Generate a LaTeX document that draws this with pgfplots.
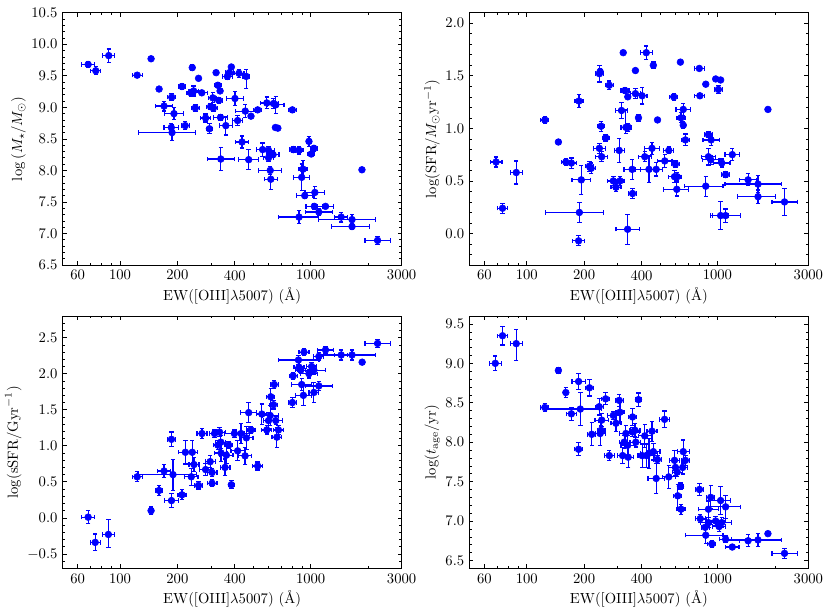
\documentclass[border=0pt]{standalone}
\usepackage{pgfplots}
\usepackage{pgfplotstable}
\pgfplotsset{compat=1.18}

\pgfplotstableread{
x y exm exp eym eyp
1.833 9.68 0.035 0.035 0.053 0.053
1.873 9.58 0.026 0.026 0.063 0.063
1.941 9.82 0.031 0.031 0.105 0.105
2.163 9.77 0 0 0 0
2.090 9.51 0.026 0.026 0.030 0.030
2.205 9.29 0 0 0 0
2.325 9.33 0.017 0.017 0.053 0.053
2.271 9.16 0.021 0.021 0.053 0.053
2.231 9.02 0.043 0.043 0.079 0.079
2.283 8.90 0.049 0.049 0.095 0.095
2.269 8.68 0.038 0.038 0.063 0.063
2.273 8.60 0.177 0.123 0.132 0.132
2.342 8.71 0.021 0.021 0.063 0.063
2.379 9.63 0.010 0.010 0.042 0.042
2.386 9.26 0.026 0.026 0.079 0.079
2.372 9.23 0.021 0.021 0.050 0.050
2.412 9.46 0 0 0 0
2.429 9.23 0.031 0.031 0.030 0.030
2.395 8.99 0.021 0.021 0.050 0.050
2.449 8.83 0.026 0.026 0.063 0.063
2.469 8.66 0.017 0.017 0.079 0.079
2.487 9.15 0.021 0.021 0.079 0.079
2.475 9.01 0.021 0.021 0.050 0.050
2.490 8.99 0.021 0.021 0.050 0.050
2.504 9.55 0 0 0.020 0.020
2.513 9.35 0.017 0.017 0.040 0.040
2.525 9.26 0 0 0 0
2.518 9.11 0.021 0.021 0.050 0.050
2.527 8.84 0.035 0.035 0.050 0.050
2.555 8.71 0.035 0.035 0.148 0.148
2.563 9.49 0.026 0.026 0.050 0.050
2.574 9.55 0.020 0.020 0.030 0.030
2.584 9.64 0 0 0.020 0.020
2.624 9.54 0.026 0.026 0.063 0.063
2.662 9.49 0.017 0.017 0.190 0.116
2.603 9.14 0.043 0.043 0.105 0.105
2.617 8.79 0.026 0.026 0.079 0.079
2.657 8.94 0.052 0.052 0.105 0.105
2.687 8.86 0.010 0.010 0.030 0.030
2.722 8.96 0.021 0.021 0.030 0.030
2.640 8.45 0.035 0.035 0.095 0.095
2.529 8.18 0.070 0.070 0.185 0.185
2.675 8.17 0.052 0.052 0.158 0.158
2.770 9.07 0.031 0.031 0.095 0.095
2.805 9.06 0.026 0.026 0.079 0.079
2.817 9.04 0.043 0.043 0.132 0.132
2.815 8.68 0.010 0.010 0.030 0.030
2.828 8.67 0.010 0.010 0.030 0.030
2.748 8.33 0.031 0.031 0.105 0.105
2.779 8.32 0.031 0.031 0.060 0.060
2.803 8.25 0.031 0.031 0.050 0.050
2.779 8.20 0.026 0.026 0.060 0.060
2.788 8.00 0.061 0.061 0.060 0.060
2.791 7.86 0.035 0.035 0.158 0.158
2.904 8.96 0.021 0.021 0.040 0.040
2.909 8.33 0.021 0.021 0.050 0.050
2.939 8.32 0.021 0.021 0.060 0.060
2.991 8.46 0.014 0.014 0.079 0.079
3.017 8.35 0.017 0.017 0.050 0.050
3.003 8.26 0.017 0.017 0.040 0.040
2.960 8.02 0.021 0.021 0.132 0.132
2.953 7.89 0.043 0.043 0.211 0.211
2.969 7.60 0.043 0.043 0.050 0.050
3.022 7.65 0.052 0.052 0.095 0.095
3.019 7.43 0.043 0.043 0.050 0.050
3.078 7.43 0.043 0.043 0.030 0.030
3.043 7.34 0.070 0.070 0.050 0.050
2.939 7.26 0.108 0.104 0.105 0.105
3.160 7.26 0.035 0.035 0.079 0.079
3.217 7.22 0.177 0.125 0.079 0.079
3.217 7.11 0.108 0.090 0.040 0.040
3.269 8.01 0 0 0 0
3.351 6.89 0.066 0.066 0.063 0.063
}\mass

\pgfplotstableread{
x y exm exp eym eyp
1.839 0.68 0.031 0.031 0.048 0.048
1.873 0.24 0.026 0.026 0.048 0.048
1.945 0.58 0.031 0.031 0.110 0.110
2.095 1.08 0.021 0.021 0.032 0.032
2.166 0.87 0 0 0.020 0.020
2.205 0.68 0.021 0.021 0.030 0.030
2.234 0.67 0.026 0.026 0.048 0.048
2.274 1.26 0.021 0.021 0.063 0.063
2.276 0.20 0.177 0.127 0.095 0.095
2.272 -0.07 0.031 0.031 0.048 0.048
2.286 0.51 0.049 0.049 0.140 0.140
2.329 0.64 0.021 0.021 0.048 0.048
2.338 0.62 0.021 0.021 0.050 0.050
2.381 1.52 0.021 0.021 0.079 0.079
2.385 1.54 0.010 0.010 0.030 0.030
2.390 1.02 0.017 0.017 0.048 0.048
2.381 0.81 0.031 0.031 0.048 0.048
2.393 0.73 0.031 0.031 0.048 0.048
2.414 0.91 0.017 0.017 0.030 0.030
2.433 1.41 0.021 0.021 0.040 0.040
2.454 0.50 0.031 0.031 0.040 0.040
2.468 0.44 0.026 0.026 0.040 0.040
2.489 0.50 0.021 0.021 0.040 0.040
2.485 0.79 0.026 0.026 0.111 0.111
2.506 1.72 0 0 0.020 0.020
2.497 1.17 0.031 0.031 0.079 0.079
2.515 1.36 0.021 0.021 0.030 0.030
2.530 1.30 0 0 0 0
2.520 1.01 0.026 0.026 0.057 0.165
2.532 1.01 0.017 0.017 0.040 0.040
2.553 0.61 0.043 0.043 0.095 0.095
2.555 0.38 0.021 0.021 0.048 0.048
2.529 0.04 0.061 0.061 0.143 0.143
2.570 1.55 0 0 0.020 0.020
2.570 1.33 0.026 0.026 0.048 0.048
2.586 1.10 0 0 0.032 0.032
2.605 1.31 0.026 0.026 0.079 0.079
2.627 1.72 0.031 0.031 0.063 0.063
2.619 0.73 0.035 0.035 0.048 0.048
2.641 0.61 0.069 0.069 0.127 0.127
2.657 0.81 0.038 0.038 0.057 0.057
2.664 1.60 0 0 0.032 0.032
2.679 0.61 0.035 0.035 0.063 0.063
2.686 1.08 0 0 0 0
2.724 0.69 0.038 0.038 0.063 0.063
2.745 0.79 0.026 0.026 0.032 0.032
2.771 1.30 0.021 0.021 0.032 0.032
2.780 0.66 0.021 0.021 0.030 0.030
2.775 0.54 0.031 0.031 0.057 0.057
2.789 0.54 0.020 0.020 0.040 0.040
2.787 0.42 0.069 0.062 0.063 0.063
2.806 1.63 0 0 0 0
2.809 1.10 0.021 0.021 0.048 0.048
2.821 1.03 0 0 0.032 0.032
2.821 1.18 0.038 0.038 0.057 0.057
2.832 0.89 0.021 0.021 0.057 0.057
2.905 1.57 0.026 0.026 0.020 0.020
2.908 1.31 0.026 0.026 0.020 0.020
2.939 1.42 0 0 0 0
2.939 0.45 0.113 0.090 0.095 0.095
2.953 0.94 0.021 0.021 0.030 0.030
2.967 0.89 0.043 0.043 0.057 0.057
2.953 0.73 0.035 0.035 0.079 0.079
2.965 0.70 0.043 0.043 0.040 0.040
2.991 1.47 0 0 0 0
3.017 1.46 0 0 0 0
3.005 1.37 0.021 0.021 0.038 0.038
3.023 0.67 0.043 0.043 0.038 0.038
3.043 0.56 0.021 0.021 0.030 0.030
3.017 0.17 0.043 0.043 0.135 0.135
3.043 0.17 0.078 0.078 0.063 0.063
3.078 0.75 0.038 0.038 0.057 0.057
3.161 0.51 0.043 0.043 0.057 0.057
3.213 0.47 0.173 0.125 0.079 0.079
3.213 0.35 0.109 0.090 0.063 0.063
3.265 1.18 0 0 0 0
3.352 0.30 0.066 0.066 0.127 0.127
}\sfr

\pgfplotstableread{
x y exm exp eym eyp
1.833 0.01 0.035 0.035 0.093 0.093
1.870 -0.34 0.026 0.026 0.116 0.116
1.939 -0.23 0.031 0.031 0.176 0.208
2.090 0.57 0.026 0.026 0.069 0.069
2.163 0.10 0 0 0.050 0.050
2.205 0.38 0.017 0.017 0.069 0.069
2.231 0.65 0.035 0.035 0.093 0.093
2.270 1.09 0.021 0.021 0.102 0.102
2.270 0.24 0.038 0.038 0.093 0.093
2.278 0.60 0.183 0.122 0.215 0.215
2.325 0.32 0.021 0.021 0.069 0.069
2.343 0.91 0.035 0.035 0.162 0.162
2.374 0.57 0.035 0.035 0.116 0.116
2.379 0.91 0.026 0.026 0.162 0.162
2.388 0.74 0.026 0.026 0.093 0.093
2.412 0.45 0.021 0.021 0.050 0.050
2.430 1.17 0.026 0.026 0.069 0.069
2.449 0.67 0.031 0.031 0.083 0.083
2.473 0.78 0.026 0.026 0.083 0.083
2.483 0.48 0.026 0.026 0.050 0.050
2.483 0.63 0.026 0.026 0.060 0.060
2.496 1.17 0.026 0.026 0.050 0.050
2.513 1.01 0.021 0.021 0.060 0.060
2.522 1.19 0.031 0.031 0.060 0.060
2.529 1.05 0.026 0.026 0.093 0.093
2.530 0.90 0.035 0.035 0.116 0.116
2.551 0.70 0.026 0.026 0.116 0.116
2.558 0.87 0.035 0.035 0.116 0.116
2.570 1.01 0.021 0.021 0.050 0.050
2.584 0.46 0.017 0.017 0.056 0.056
2.600 1.17 0.052 0.052 0.050 0.050
2.617 0.93 0.035 0.035 0.139 0.139
2.635 1.17 0.043 0.043 0.139 0.139
2.656 0.86 0.035 0.035 0.116 0.116
2.663 1.11 0.035 0.035 0.162 0.162
2.675 1.46 0.043 0.043 0.139 0.139
2.687 1.22 0.021 0.021 0.046 0.046
2.722 0.72 0.026 0.026 0.056 0.056
2.744 1.44 0.026 0.026 0.139 0.139
2.770 1.22 0.026 0.026 0.056 0.056
2.779 1.35 0.026 0.026 0.116 0.116
2.788 1.42 0.043 0.043 0.139 0.139
2.791 1.68 0.021 0.021 0.116 0.116
2.805 1.57 0.021 0.021 0.060 0.060
2.809 1.85 0.021 0.021 0.060 0.060
2.817 1.35 0.035 0.035 0.060 0.060
2.831 1.22 0.026 0.026 0.060 0.060
2.823 1.12 0.026 0.026 0.139 0.139
2.904 1.60 0.021 0.021 0.069 0.069
2.908 1.97 0.021 0.021 0.050 0.050
2.936 2.19 0.106 0.108 0.060 0.060
2.939 2.09 0.026 0.026 0.060 0.060
2.948 2.05 0.026 0.026 0.050 0.050
2.965 2.30 0.026 0.026 0.050 0.050
2.953 1.85 0.052 0.052 0.080 0.080
2.962 1.70 0.043 0.043 0.139 0.139
2.991 2.00 0.043 0.043 0.060 0.060
3.005 2.10 0.026 0.026 0.060 0.060
3.017 2.05 0.061 0.061 0.060 0.060
3.017 1.74 0.026 0.026 0.139 0.139
3.043 1.83 0.070 0.070 0.060 0.060
3.043 2.24 0.026 0.026 0.050 0.050
3.078 2.33 0.043 0.043 0.050 0.050
3.160 2.26 0.035 0.035 0.069 0.069
3.217 2.26 0.177 0.125 0.069 0.069
3.270 2.16 0 0 0 0
3.351 2.42 0.066 0.066 0.056 0.056
}\ssfr

\pgfplotstableread{
x y exm exp eym eyp
1.835 9.00 0.031 0.031 0.093 0.093
1.873 9.35 0.026 0.026 0.118 0.118
1.945 9.25 0.031 0.031 0.211 0.181
2.095 8.44 0.021 0.021 0.051 0.051
2.166 8.91 0 0 0.040 0.040
2.205 8.63 0 0 0.063 0.063
2.234 8.36 0.026 0.026 0.084 0.084
2.272 8.77 0.035 0.035 0.105 0.105
2.272 7.91 0.021 0.021 0.084 0.084
2.281 8.42 0.180 0.110 0.210 0.210
2.329 8.69 0.021 0.021 0.105 0.105
2.341 8.10 0.021 0.021 0.147 0.147
2.380 8.45 0.021 0.021 0.105 0.105
2.385 8.11 0.026 0.026 0.147 0.147
2.390 8.15 0.020 0.020 0.060 0.060
2.393 8.28 0.035 0.035 0.080 0.080
2.414 8.55 0.021 0.021 0.076 0.076
2.433 7.83 0.026 0.026 0.063 0.063
2.454 8.34 0.031 0.031 0.050 0.050
2.468 8.24 0.026 0.026 0.105 0.105
2.485 8.53 0.021 0.021 0.076 0.076
2.489 8.38 0.021 0.021 0.126 0.126
2.503 7.83 0.026 0.026 0.105 0.105
2.511 8.00 0.026 0.026 0.084 0.084
2.520 8.11 0.035 0.035 0.105 0.105
2.529 7.96 0.035 0.035 0.126 0.126
2.532 7.81 0.026 0.026 0.126 0.126
2.555 8.32 0.021 0.021 0.105 0.105
2.555 8.13 0.035 0.035 0.060 0.060
2.568 8.15 0.026 0.026 0.084 0.084
2.572 8.00 0.026 0.026 0.060 0.060
2.586 8.54 0.017 0.017 0.084 0.084
2.605 7.83 0.026 0.026 0.147 0.147
2.619 8.08 0.035 0.035 0.147 0.147
2.627 7.83 0.043 0.043 0.147 0.147
2.641 7.86 0.043 0.043 0.190 0.190
2.657 8.14 0.026 0.026 0.126 0.126
2.664 7.88 0.035 0.035 0.105 0.105
2.679 7.54 0.043 0.043 0.190 0.190
2.685 7.78 0.021 0.021 0.051 0.051
2.723 8.29 0.026 0.026 0.105 0.105
2.745 7.56 0.035 0.035 0.147 0.147
2.775 7.77 0.026 0.026 0.126 0.126
2.780 7.68 0.035 0.035 0.105 0.105
2.789 7.62 0.026 0.026 0.060 0.060
2.792 7.32 0.021 0.021 0.147 0.147
2.806 7.44 0.017 0.017 0.042 0.042
2.809 7.15 0.021 0.021 0.063 0.063
2.818 7.68 0.026 0.026 0.084 0.084
2.821 7.88 0.031 0.031 0.147 0.147
2.832 7.77 0.021 0.021 0.063 0.063
2.906 7.40 0.021 0.021 0.076 0.076
2.910 7.03 0.026 0.026 0.051 0.051
2.936 6.92 0.021 0.021 0.105 0.105
2.939 6.82 0.107 0.090 0.105 0.105
2.953 7.15 0.052 0.052 0.105 0.105
2.953 6.98 0.043 0.043 0.060 0.060
2.965 7.30 0.021 0.021 0.147 0.147
2.971 6.71 0.021 0.021 0.040 0.040
2.991 7.00 0.052 0.052 0.060 0.060
3.009 6.93 0.035 0.035 0.060 0.060
3.017 7.26 0.052 0.052 0.180 0.180
3.023 6.98 0.052 0.052 0.060 0.060
3.043 7.18 0.078 0.078 0.147 0.147
3.043 6.77 0.030 0.030 0.040 0.040
3.078 6.67 0.035 0.035 0.030 0.030
3.161 6.75 0.043 0.043 0.076 0.076
3.213 6.76 0.170 0.125 0.084 0.084
3.265 6.84 0 0 0 0
3.352 6.59 0.066 0.066 0.063 0.063
}\age

\pgfplotsset{
  panel/.style={
    scale only axis, width=231.4pt, height=172.2pt,
    xmin=1.69897, xmax=3.47712,
    xtick={1.77815,2,2.30103,2.60206,3,3.47712},
    xticklabels={60,100,200,400,1000,3000},
    minor xtick={1.84510,1.90309,1.95424,2.47712,2.69897,2.77815,2.84510,2.90309,2.95424,3.30103},
    tick align=inside, tick pos=both,
    major tick length=2.8pt, minor tick length=1.5pt,
    major tick style={black, line width=0.5pt},
    minor tick style={black, line width=0.4pt},
    axis line style={black, line width=0.6pt},
    yticklabel style={/pgf/number format/.cd, fixed, fixed zerofill, precision=1},
    xlabel={EW([OIII]$\lambda$5007) (\AA)},
    xlabel style={yshift=2pt},
    ylabel shift=-3pt,
    clip=true,
  },
  pts/.style={only marks, mark=*, mark size=2.3pt, color=blue, fill=blue,
    error bars/.cd, x dir=both, x explicit, y dir=both, y explicit,
    error bar style={line width=0.8pt, blue},
    error mark=-,
    error mark options={rotate=90, blue, mark size=1.5pt, line width=0.8pt}},
}

\newcommand{\plotdata}[1]{%
  \addplot[pts] table[x=x, y=y, x error plus=exp, x error minus=exm,
    y error plus=eyp, y error minus=eym] {#1};}

\begin{document}
\begin{tikzpicture}
\useasboundingbox (0,0) rectangle (567.2pt,419.8pt);

\begin{axis}[panel, at={(42.73pt,238.91pt)}, anchor=south west,
  ymin=6.5, ymax=10.5,
  ytick={6.5,7.0,7.5,8.0,8.5,9.0,9.5,10.0,10.5},
  minor ytick={6.6,6.7,6.8,6.9,7.1,7.2,7.3,7.4,7.6,7.7,7.8,7.9,8.1,8.2,8.3,8.4,8.6,8.7,8.8,8.9,9.1,9.2,9.3,9.4,9.6,9.7,9.8,9.9,10.1,10.2,10.3,10.4},
  ylabel={$\log\,(M_\star/M_\odot)$}]
\plotdata{\mass}
\end{axis}

\begin{axis}[panel, at={(320.35pt,238.91pt)}, anchor=south west,
  ymin=-0.3, ymax=2.1,
  ytick={0,0.5,1.0,1.5,2.0},
  minor ytick={-0.2,-0.1,0.1,0.2,0.3,0.4,0.6,0.7,0.8,0.9,1.1,1.2,1.3,1.4,1.6,1.7,1.8,1.9,2.1},
  ylabel={$\log(\mathrm{SFR}/M_\odot\mathrm{yr}^{-1})$}]
\plotdata{\sfr}
\end{axis}

\begin{axis}[panel, at={(42.73pt,31.88pt)}, anchor=south west,
  ymin=-0.7, ymax=2.8,
  ytick={-0.5,0,0.5,1.0,1.5,2.0,2.5},
  minor ytick={-0.6,-0.4,-0.3,-0.2,-0.1,0.1,0.2,0.3,0.4,0.6,0.7,0.8,0.9,1.1,1.2,1.3,1.4,1.6,1.7,1.8,1.9,2.1,2.2,2.3,2.4,2.6,2.7},
  ylabel={$\log(\mathrm{sSFR}/\mathrm{Gyr}^{-1})$}]
\plotdata{\ssfr}
\end{axis}

\begin{axis}[panel, at={(320.35pt,31.88pt)}, anchor=south west,
  ymin=6.4, ymax=9.6,
  ytick={6.5,7.0,7.5,8.0,8.5,9.0,9.5},
  minor ytick={6.6,6.7,6.8,6.9,7.1,7.2,7.3,7.4,7.6,7.7,7.8,7.9,8.1,8.2,8.3,8.4,8.6,8.7,8.8,8.9,9.1,9.2,9.3,9.4},
  ylabel={$\log(t_\mathrm{age}/\mathrm{yr})$}]
\plotdata{\age}
\end{axis}
\end{tikzpicture}
\end{document}
